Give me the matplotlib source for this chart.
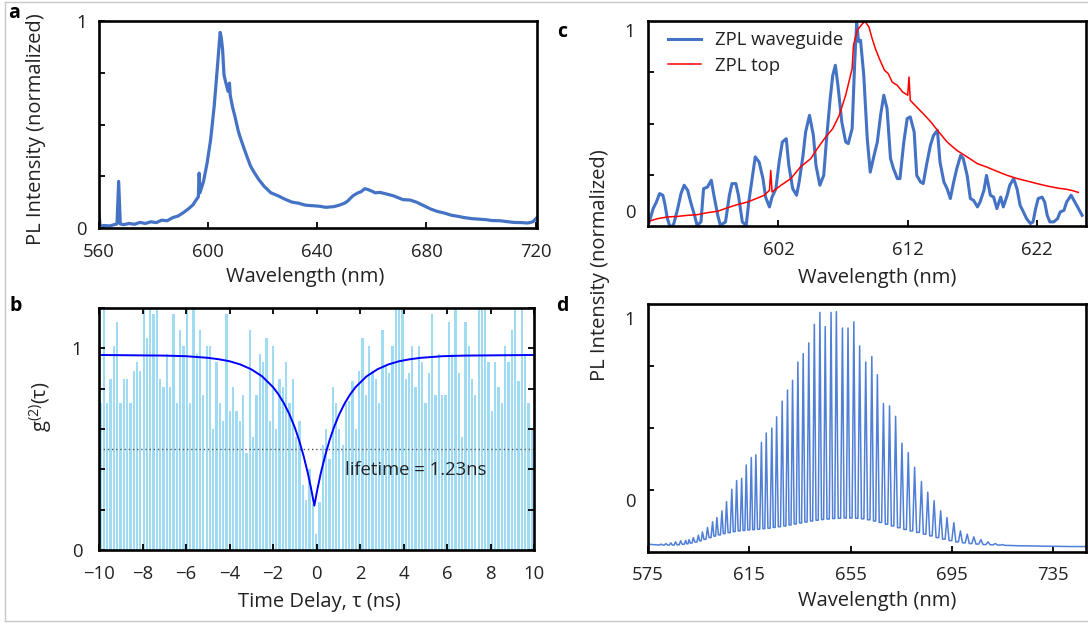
import numpy as np
import matplotlib
matplotlib.use("Agg")
import matplotlib.pyplot as plt
from matplotlib.lines import Line2D

# ---- panel a: PL spectrum ----
a_wl = [560.0, 560.4, 562, 564, 565.5, 566.6, 567.2, 567.8, 569, 571, 573, 575, 577, 579, 581,
        583, 585, 587, 589, 591, 593, 594.5, 595.8, 596.4, 596.7, 597.0, 598.3, 599.6, 600.9,
        602.2, 603.4, 604.0, 604.4, 604.8, 605.3, 605.8, 606.5, 607.3, 607.8, 608.1, 609, 609.8,
        611, 611.7, 613, 614.2, 615.5, 616.8, 618.5, 620.6, 623, 625.7, 628, 630.7, 633, 635.8,
        638, 640.9, 643, 646, 648, 650, 651.1, 653, 654.9, 656, 657.4, 658.7, 660, 661.2, 663,
        666.3, 668, 671.4, 674, 676.5, 679, 681.5, 684, 686.6, 689, 691.7, 694, 696.8, 699,
        701.9, 704, 707, 710, 712, 715, 717.1, 719, 720.3]
a_int = [0.07, 0.01, 0.012, 0.01, 0.016, 0.02, 0.225, 0.02, 0.016, 0.022, 0.018, 0.027, 0.022,
         0.03, 0.026, 0.038, 0.035, 0.05, 0.058, 0.075, 0.095, 0.113, 0.14, 0.15, 0.265, 0.17,
         0.225, 0.313, 0.426, 0.587, 0.78, 0.88, 0.945, 0.92, 0.86, 0.74, 0.70, 0.66, 0.70, 0.64,
         0.58, 0.54, 0.47, 0.44, 0.39, 0.346, 0.30, 0.27, 0.235, 0.2, 0.17, 0.155, 0.14, 0.125,
         0.12, 0.11, 0.108, 0.105, 0.1, 0.103, 0.11, 0.12, 0.13, 0.155, 0.17, 0.175, 0.19, 0.185,
         0.178, 0.17, 0.172, 0.161, 0.155, 0.137, 0.135, 0.124, 0.108, 0.092, 0.08, 0.072, 0.062,
         0.056, 0.05, 0.045, 0.043, 0.04, 0.036, 0.035, 0.03, 0.027, 0.026, 0.024, 0.03, 0.048]

# ---- panel b: g2 histogram + fit ----
bin_start = -9.93
bin_step = 0.1525
g2_counts = [0.73, 1.25, 0.73, 0.85, 1.01, 1.13, 0.73, 0.85, 0.85, 0.73, 0.89, 0.93, 0.89, 1.25,
             1.05, 1.25, 1.17, 1.25, 0.85, 0.81, 0.97, 0.81, 1.17, 0.73, 1.09, 1.01, 1.25, 0.73,
             1.25, 0.97, 1.09, 0.77, 1.01, 1.01, 0.60, 0.93, 0.73, 0.64, 1.17, 0.69, 0.81,
             0.69, 0.64, 0.77, 0.48, 1.09, 0.56, 0.77, 0.97, 0.93, 1.05, 0.64, 1.01, 0.60, 0.85,
             0.81, 0.93, 0.73, 0.85, 0.56, 0.64, 0.32, 0.25, 0.40, 0.23, 0.08,
             0.24, 0.52, 0.60, 0.45, 0.81, 0.73, 0.60, 0.52, 0.73, 0.74, 0.84, 0.60, 0.89, 1.05,
             0.77, 1.01, 0.89, 0.85,
             0.73, 1.09, 0.91, 0.88, 1.01, 1.25, 1.25, 1.25, 0.85, 0.88, 1.01, 0.81, 1.01, 0.93,
             0.73, 0.88, 1.17, 0.77, 0.97, 0.77, 0.77, 1.13, 0.97, 1.25, 0.88, 0.56, 1.13, 1.01,
             0.85, 0.77, 1.25, 1.25, 1.25, 0.93, 0.69, 0.93, 0.81, 0.73, 1.01, 0.93, 1.09, 1.25,
             0.84, 1.25, 0.97, 0.73, 0.60]
fit_t = [-10, -7, -6, -5, -4.5, -4, -3.5, -3, -2.5, -2, -1.75, -1.5, -1.25, -1, -0.8, -0.6,
         -0.4, -0.25, -0.1, 0.05, 0.2, 0.4, 0.6, 0.8, 1.05, 1.3, 1.55, 1.8, 2.3, 2.8, 3.3, 3.8,
         4.3, 4.8, 5.8, 6.8, 10]
fit_g2 = [0.967, 0.964, 0.961, 0.953, 0.946, 0.936, 0.920, 0.896, 0.861, 0.808, 0.772, 0.728,
          0.674, 0.608, 0.544, 0.469, 0.382, 0.306, 0.220, 0.306, 0.382, 0.469, 0.544, 0.608,
          0.674, 0.728, 0.772, 0.808, 0.861, 0.896, 0.920, 0.936, 0.946, 0.953, 0.961, 0.964,
          0.967]

# ---- panel c: ZPL waveguide vs top ----
wg_wl = [592.0, 592.3, 592.55, 592.8, 593.05, 593.2, 593.4, 593.65, 593.9, 594.2, 594.45, 594.7,
         594.97, 595.2, 595.5, 595.7, 596.0, 596.2, 596.5, 596.8, 597.0, 597.3, 597.5, 597.9,
         598.2, 598.4, 598.7, 598.9, 599.2, 599.5, 599.7, 600.0, 600.2, 600.5, 600.8, 601.0,
         601.3, 601.5, 601.8, 602.05, 602.3, 602.6, 602.8, 603.1, 603.4, 603.6, 603.9, 604.1,
         604.4, 604.7, 604.9, 605.2, 605.5, 605.7, 606.0, 606.2, 606.4, 606.6, 606.9, 607.2,
         607.4, 607.7, 607.9, 608.05, 608.2, 608.35, 608.6, 608.87, 609.1, 609.4, 609.65, 609.9,
         610.15, 610.4, 610.67, 610.9, 611.2, 611.4, 611.7, 611.96, 612.2, 612.5, 612.7, 612.99,
         613.2, 613.5, 613.76, 614.0, 614.3, 614.5, 614.8, 615.05, 615.3, 615.56, 615.8, 616.1,
         616.3, 616.6, 616.85, 617.1, 617.4, 617.6, 617.9, 618.1, 618.4, 618.65, 618.9, 619.2,
         619.4, 619.7, 619.9, 620.2, 620.46, 620.7, 620.96, 621.2, 621.5, 621.7, 621.9, 622.1,
         622.4, 622.6, 622.8, 623.0, 623.3, 623.6, 623.8, 624.1, 624.3, 624.65, 625.5]
wg_int = [0.02, 0.085, 0.117, 0.158, 0.15, 0.109, 0.036, -0.013, 0.012, 0.085, 0.158, 0.199,
          0.174, 0.117, 0.052, 0.003, 0.02, 0.182, 0.19, 0.223, 0.15, 0.052, 0.003, 0.02, 0.15,
          0.207, 0.207, 0.15, 0.02, 0.003, 0.117, 0.247, 0.337, 0.312, 0.231, 0.141, 0.093, 0.141,
          0.182, 0.312, 0.41, 0.426, 0.296, 0.182, 0.15, 0.215, 0.345, 0.459, 0.54, 0.442, 0.296,
          0.199, 0.247, 0.41, 0.621, 0.735, 0.784, 0.686, 0.507, 0.41, 0.402, 0.475, 0.8, 0.99,
          0.9, 0.906, 0.735, 0.426, 0.263, 0.345, 0.41, 0.54, 0.638, 0.573, 0.329, 0.28, 0.231,
          0.231, 0.41, 0.524, 0.532, 0.459, 0.247, 0.215, 0.207, 0.312, 0.394, 0.442, 0.467,
          0.312, 0.215, 0.182, 0.134, 0.215, 0.28, 0.345, 0.329, 0.247, 0.134, 0.125, 0.093,
          0.117, 0.174, 0.247, 0.15, 0.141, 0.085, 0.141, 0.093, 0.15, 0.199, 0.231, 0.182, 0.101,
          0.068, 0.036, 0.012, 0.02, 0.085, 0.134, 0.141, 0.117, 0.052, 0.02, 0.02, 0.036, 0.068,
          0.077, 0.117, 0.15, 0.052]
top_wl = [592.0, 592.65, 593.4, 594.2, 594.97, 595.7, 596.5, 597.3, 598.1, 598.8, 599.6, 600.4,
          600.9, 601.3, 601.4, 601.5, 602.2, 602.95, 603.7, 604.5, 605.0, 605.65, 606.2, 606.7,
          607.2, 607.7, 607.8, 608.1, 608.5, 608.7, 609.0, 609.25, 609.5, 609.8, 610.2, 610.5,
          610.8, 611.2, 611.6, 612.0, 612.1, 612.2, 612.7, 613.2, 613.8, 614.3, 615.05, 615.8,
          616.6, 617.4, 618.1, 618.9, 619.7, 620.5, 621.2, 622.0, 622.8, 623.6, 624.3, 624.8,
          625.2]
top_int = [0.024, 0.036, 0.044, 0.047, 0.052, 0.055, 0.065, 0.072, 0.09, 0.104, 0.117, 0.137,
           0.15, 0.174, 0.271, 0.166, 0.199, 0.231, 0.288, 0.329, 0.377, 0.434, 0.475, 0.54,
           0.638, 0.768, 0.881, 0.955, 0.987, 0.998, 0.971, 0.914, 0.865, 0.817, 0.76, 0.743,
           0.702, 0.686, 0.654, 0.638, 0.727, 0.613, 0.58, 0.548, 0.507, 0.467, 0.41, 0.369,
           0.337, 0.304, 0.288, 0.267, 0.247, 0.231, 0.22, 0.207, 0.195, 0.185, 0.179, 0.172,
           0.164]

# ---- panel d: comb spectrum (peak tops and valley floors) ----
d_peak_wl = [580.2, 582.1, 584.0, 585.9, 587.9, 589.9, 591.2, 592.9, 594.9, 596.5, 598.5, 600.5,
             602.2, 604.2, 606.0, 608.1, 610.0, 612.0, 613.8, 615.8, 617.6, 619.8, 621.7, 623.9,
             625.8, 628.0, 630.1, 632.1, 634.2, 636.3, 638.5, 640.7, 642.9, 645.0, 647.3, 649.4,
             651.8, 654.0, 656.3, 658.6, 661.0, 663.4, 665.6, 668.0, 670.4, 672.8, 675.3, 677.8,
             680.3, 683.0, 685.5, 688.0, 690.6, 693.1, 695.8, 698.4, 701.1, 703.7, 706.5, 709.3,
             712.2, 715.1]
d_peak_int = [0.032, 0.034, 0.037, 0.041, 0.045, 0.047, 0.050, 0.058, 0.068, 0.081, 0.099, 0.122,
              0.139, 0.166, 0.203, 0.253, 0.288, 0.297, 0.351, 0.381, 0.392, 0.442, 0.480, 0.500,
              0.545, 0.608, 0.653, 0.692, 0.766, 0.800, 0.843, 0.918, 0.966, 0.909, 0.966, 0.969,
              0.903, 0.903, 0.928, 0.831, 0.766, 0.788, 0.715, 0.599, 0.589, 0.547, 0.439, 0.401,
              0.342, 0.284, 0.241, 0.207, 0.166, 0.139, 0.118, 0.085, 0.072, 0.061, 0.050, 0.041,
              0.034, 0.030]
d_valley_int = [0.028, 0.028, 0.028, 0.028, 0.029, 0.031, 0.033, 0.036, 0.040, 0.045, 0.051,
                0.058, 0.064, 0.069, 0.074, 0.078, 0.082, 0.085, 0.087, 0.089, 0.090, 0.092,
                0.094, 0.096, 0.099, 0.102, 0.105, 0.109, 0.113, 0.117, 0.121, 0.125, 0.128,
                0.131, 0.133, 0.135, 0.136, 0.137, 0.137, 0.136, 0.134, 0.130, 0.125, 0.119,
                0.112, 0.105, 0.098, 0.091, 0.085, 0.079, 0.072, 0.065, 0.058, 0.052, 0.046,
                0.041, 0.037, 0.034, 0.032, 0.030, 0.029, 0.028, 0.027]
d_left_wl = [575.0, 575.4, 577.0]
d_left_int = [0.045, 0.031, 0.030]
d_right_wl = [722.0, 728.0, 735.0, 742.0, 748.0]
d_right_int = [0.025, 0.024, 0.023, 0.022, 0.022]

# build the comb trace: flat valley floor, steep sides up to each peak
d_x = list(d_left_wl)
d_y = list(d_left_int)
for i, (p, h) in enumerate(zip(d_peak_wl, d_peak_int)):
    prev_gap = (p - d_peak_wl[i - 1]) if i > 0 else 2.0
    next_gap = (d_peak_wl[i + 1] - p) if i < len(d_peak_wl) - 1 else 2.0
    d_x += [p - 0.3 * prev_gap, p, p + 0.3 * next_gap]
    d_y += [d_valley_int[i], h, d_valley_int[i + 1]]
d_x += d_right_wl
d_y += d_right_int

# ---- figure ----
plt.rcParams['font.family'] = ['Open Sans', 'DejaVu Sans']
plt.rcParams['mathtext.default'] = 'regular'
plt.rcParams['text.color'] = '#222222'
W, H = 1088, 624
fs = 13.3     # tick labels, legend, annotation
fl = 14.5     # axis titles
fig = plt.figure(figsize=(W / 100, H / 100), dpi=100)


def px_axes(x0, y0, x1, y1):
    return fig.add_axes([x0 / W, 1 - y1 / H, (x1 - x0) / W, (y1 - y0) / H])


def style(ax):
    for s in ax.spines.values():
        s.set_linewidth(1.9)
    ax.tick_params(direction='in', length=4.5, width=1.3, colors='black',
                   labelcolor='#222222', labelsize=fs)


# a
ax_a = px_axes(99, 21, 537, 228)
ax_a.plot(a_wl, a_int, color='#4472c4', lw=2.3)
ax_a.set_xlim(560, 720.5)
ax_a.set_ylim(0, 1)
ax_a.set_xticks([560, 600, 640, 680, 720])
ax_a.set_yticks([0, 0.25, 0.5, 0.75, 1])
ax_a.set_yticklabels(['0', '', '', '', '1'])
style(ax_a)
ax_a.tick_params(axis='x', pad=10.5)
ax_a.tick_params(axis='y', pad=9)

# b
ax_b = px_axes(99, 308, 534, 550)
t_centers = bin_start + bin_step * np.arange(len(g2_counts))
ax_b.bar(t_centers, g2_counts, width=0.105, color='#9fdcf4', linewidth=0)
ax_b.axhline(0.5, color='#555555', lw=1.0, ls=(0, (1, 2)))
ax_b.plot(fit_t, fit_g2, color='#0000ff', lw=1.4)
ax_b.text(1.3, 0.397, 'lifetime = 1.23ns', fontsize=fs, va='center', ha='left')
ax_b.set_xlim(-10, 10)
ax_b.set_ylim(0, 1.2)
ax_b.set_xticks(range(-10, 11, 2))
ax_b.set_yticks([0, 0.2, 0.4, 0.6, 0.8, 1.0, 1.2])
ax_b.set_yticklabels(['0', '', '', '', '', '1', ''])
style(ax_b)
ax_b.tick_params(top=True, right=True)
ax_b.tick_params(axis='x', pad=10.5)
ax_b.tick_params(axis='y', pad=12)

# c
ax_c = px_axes(648, 21, 1086, 226)
ax_c.plot(wg_wl, wg_int, color='#4472c4', lw=2.2, label='ZPL waveguide')
ax_c.plot(top_wl, top_int, color='#ff0000', lw=1.1, label='ZPL top')
ax_c.set_xlim(591.9, 625.8)
ax_c.set_ylim(0, 1)
ax_c.set_xticks([602, 612, 622])
ax_c.set_yticks([0.25, 0.5, 0.75])
ax_c.set_yticklabels([])
style(ax_c)
ax_c.tick_params(axis='x', pad=10.5)
ax_c.text(-0.041, 0.945, '1', transform=ax_c.transAxes, fontsize=fs, ha='center', va='center')
ax_c.text(-0.041, 0.063, '0', transform=ax_c.transAxes, fontsize=fs, ha='center', va='center')
ax_c.legend(loc='upper left', bbox_to_anchor=(20 / 438, 0.95), frameon=False, fontsize=fs,
            handlelength=1.8, handletextpad=0.75, borderpad=0, borderaxespad=0, labelspacing=0.4)

# d
ax_d = px_axes(648, 304, 1086, 552)
ax_d.plot(d_x, d_y, color='#4f7fd6', lw=1.1)
ax_d.set_xlim(575, 748)
ax_d.set_ylim(0, 1)
ax_d.set_xticks([575, 615, 655, 695, 735])
ax_d.set_yticks([0.25, 0.5, 0.75])
ax_d.set_yticklabels([])
style(ax_d)
ax_d.tick_params(axis='x', pad=10)
ax_d.text(-0.041, 0.935, '1', transform=ax_d.transAxes, fontsize=fs, ha='center', va='center')
ax_d.text(-0.041, 0.2, '0', transform=ax_d.transAxes, fontsize=fs, ha='center', va='center')


# axis titles placed in pixel positions
def ftext(x, y, s, **kw):
    fig.text(x / W, 1 - y / H, s, ha='center', va='center', **kw)


ftext(36.5, 129, 'PL Intensity (normalized)', fontsize=fl, rotation=90)
ftext(305, 277, 'Wavelength (nm)', fontsize=fl)
ftext(41, 407, 'g$^{(2)}$(τ)', fontsize=fl, rotation=90)
ftext(319, 602, 'Time Delay, τ (ns)', fontsize=fl)
ftext(600, 265, 'PL Intensity (normalized)', fontsize=fl, rotation=90)
ftext(877, 278, 'Wavelength (nm)', fontsize=fl)
ftext(877, 601, 'Wavelength (nm)', fontsize=fl)

for x, y, s in [(14, 13, 'a'), (16, 306, 'b'), (562, 32, 'c'), (562, 306, 'd')]:
    ftext(x, y, s, fontsize=14, fontweight='bold', color='black')

# thin grey frame round the whole figure
frame = dict(transform=fig.transFigure, color='#c8c8c8', lw=1.0)
fig.add_artist(Line2D([5 / W, 1], [1 - 1.5 / H, 1 - 1.5 / H], **frame))
fig.add_artist(Line2D([5 / W, 5 / W], [1 - 1.5 / H, 1 - 621 / H], **frame))
fig.add_artist(Line2D([5 / W, 1], [1 - 621 / H, 1 - 621 / H], **frame))

fig.savefig('out.png', dpi=100)
